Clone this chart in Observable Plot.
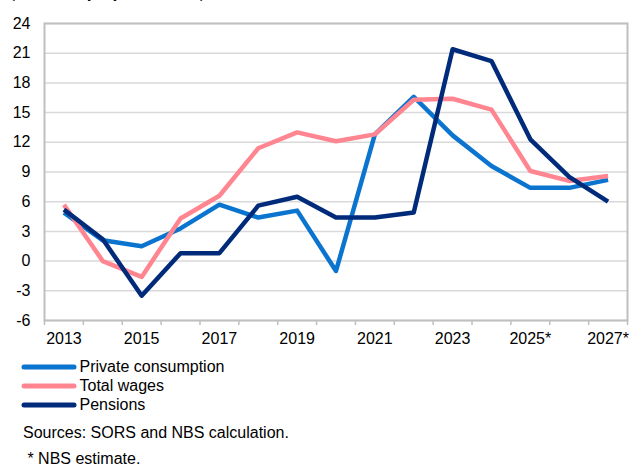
<!DOCTYPE html>
<html>
<head>
<meta charset="utf-8">
<script src="https://cdn.jsdelivr.net/npm/d3@7"></script>
<script src="https://cdn.jsdelivr.net/npm/@observablehq/plot@0.6"></script>
<style>
  html, body { margin: 0; padding: 0; background: #fff; }
  body { width: 629px; height: 466px; overflow: hidden; position: relative;
         font-family: Arial, "Liberation Sans", sans-serif; color: #000; }
  #title { position: absolute; left: 10px; top: -15.5px; font-size: 15px; line-height: 15px; white-space: nowrap; }
  #chart { position: absolute; left: 0; top: 0; }
  #legend { position: absolute; left: 19px; top: 358px; }
  .row { display: flex; align-items: center; height: 18.7px; font-size: 16px; white-space: nowrap; }
  .row svg { display: block; margin-right: 0.5px; }
  .note { position: absolute; font-size: 16px; line-height: 18px; white-space: pre; }
  #src { left: 23px; top: 424px; }
  #est { left: 23px; top: 450px; }
</style>
</head>
<body>
<div id="title"></div>
<div id="chart"></div>
<div id="legend"></div>
<div class="note" id="src"></div>
<div class="note" id="est"></div>
<script>
// ---- data ----
const years = [2013, 2014, 2015, 2016, 2017, 2018, 2019, 2020, 2021, 2022, 2023, 2024, 2025, 2026, 2027];
const yearLabels = ["2013", "2014", "2015", "2016", "2017", "2018", "2019", "2020", "2021", "2022", "2023", "2024", "2025*", "2026*", "2027*"];
const privateConsumption = [4.9, 2.1, 1.5, 3.3, 5.7, 4.4, 5.1, -1.0, 12.8, 16.6, 12.7, 9.6, 7.4, 7.4, 8.2];
const totalWages = [5.7, 0.0, -1.6, 4.3, 6.6, 11.4, 13.0, 12.1, 12.8, 16.3, 16.4, 15.3, 9.1, 8.1, 8.6];
const pensions = [5.2, 2.2, -3.5, 0.8, 0.8, 5.6, 6.5, 4.4, 4.4, 4.9, 21.4, 20.2, 12.3, 8.5, 6.0];
const seriesNames = ["Private consumption", "Total wages", "Pensions"];
const seriesColors = ["#0A74CF", "#FF8591", "#002B7A"];
const yTicks = [-6, -3, 0, 3, 6, 9, 12, 15, 18, 21, 24];
const titleText = "(in nominal y-o-y terms, in %)";
const sourceText = "Sources: SORS and NBS calculation.";
const estimateText = " * NBS estimate.";

// ---- build ----
const seriesValues = [privateConsumption, totalWages, pensions];
const data = seriesNames.flatMap((name, s) =>
  years.map((year, i) => ({ name, year, value: seriesValues[s][i] })));
const boundaries = [...years.map(y => y - 0.5), years[years.length - 1] + 0.5];
const labelYears = years.filter((d, i) => i % 2 === 0);
const font = "Arial, 'Liberation Sans', sans-serif";

const chart = Plot.plot({
  width: 629,
  height: 352,
  marginTop: 23,
  marginBottom: 32,
  marginLeft: 44,
  marginRight: 2,
  style: { fontFamily: font, fontSize: "16px", color: "#000", background: "transparent", overflow: "visible" },
  x: { domain: [years[0] - 0.5, years[years.length - 1] + 0.5], label: null },
  y: { domain: [yTicks[0], yTicks[yTicks.length - 1]], label: null },
  color: { domain: seriesNames, range: seriesColors },
  marks: [
    Plot.gridY(yTicks, { stroke: "#d9d9d9", strokeOpacity: 1, strokeWidth: 1.5 }),
    Plot.axisY(yTicks, { tickSize: 0, tickPadding: 14, label: null, fontSize: 16, tickFormat: d => String(d) }),
    Plot.axisX(boundaries, { tickSize: 5, tickFormat: () => "", label: null, stroke: "#bfbfbf", strokeWidth: 1.5 }),
    Plot.axisX(labelYears, { tickSize: 0, tickPadding: 12, label: null, fontSize: 16,
      tickFormat: d => yearLabels[years.indexOf(d)] }),
    Plot.frame({ stroke: "#bfbfbf", strokeWidth: 2 }),
    Plot.line(data, { x: "year", y: "value", z: "name", stroke: "name",
      strokeWidth: 4.5, strokeLinejoin: "round", strokeLinecap: "butt" })
  ]
});
document.getElementById("chart").appendChild(chart);

document.getElementById("title").textContent = titleText;
document.getElementById("src").textContent = sourceText;
document.getElementById("est").textContent = estimateText;

const legend = document.getElementById("legend");
seriesNames.forEach((name, i) => {
  const row = document.createElement("div");
  row.className = "row";
  row.innerHTML = `<svg width="60" height="8"><line x1="5" x2="55" y1="4" y2="4" stroke="${seriesColors[i]}" stroke-width="5" stroke-linecap="round"/></svg>`;
  const span = document.createElement("span");
  span.textContent = name;
  row.appendChild(span);
  legend.appendChild(row);
});
</script>
</body>
</html>
